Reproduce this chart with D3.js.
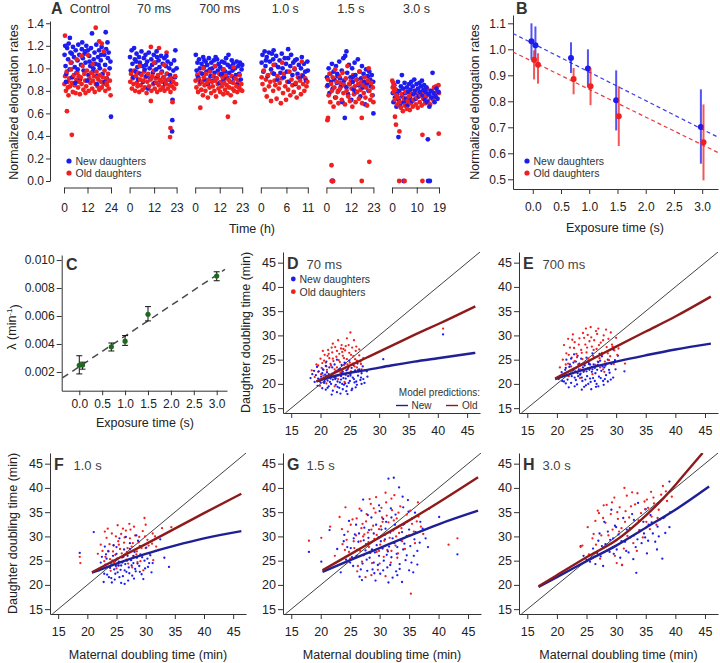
<!DOCTYPE html>
<html><head><meta charset="utf-8">
<script src="https://cdn.jsdelivr.net/npm/d3@7"></script>
<style>body{margin:0;background:#fff}svg{display:block}</style>
</head><body><svg id="c" width="720" height="663"></svg>
<script>
// ---------------- DATA ----------------
// Panel A
const aGroups = ["Control","70 ms","700 ms","1.0 s","1.5 s","3.0 s"];
const aTimeMax = [24,23,23,11,23,19];
const aTimeTicks = [[0,12,24],[0,12,23],[0,12,23],[0,6,11],[0,12,23],[0,10,19]];
const aYTicks = [0,0.2,0.4,0.6,0.8,1.0,1.2,1.4];
const aNewCtrl = [[0.3,1.12],[0.8,1.02],[1.2,0.95],[1.6,1.18],[2.1,1.08],[3.0,1.27],[2.9,0.99],[3.3,1.14],[3.8,1.05],[4.2,0.92],[4.6,1.19],[5.1,1.10],[5.5,1.01],[6.0,1.16],[6.4,0.96],[6.9,1.07],[7.3,1.21],[7.8,1.12],[8.2,0.90],[8.7,1.03],[9.1,1.17],[9.6,1.09],[10.0,0.98],[10.5,1.13],[11.0,1.05],[11.4,1.20],[12.5,0.94],[12.9,1.11],[13.4,1.02],[13.8,1.18],[14.3,1.31],[14.7,0.97],[15.2,1.08],[15.6,1.14],[16.1,1.04],[16.5,1.21],[17.0,0.93],[17.4,1.10],[17.9,1.16],[18.3,1.00],[18.8,1.07],[19.2,1.19],[19.7,0.95],[21.3,1.32],[20.6,1.12],[21.0,1.03],[21.5,1.17],[21.9,0.91],[22.4,1.09],[22.8,1.14],[23.3,1.00],[23.7,1.06],[24.0,0.57],[1.0,0.88],[5.8,0.87],[11.8,0.89],[16.8,0.86],[20.8,0.88],[2.4,1.22],[9.3,1.23],[4.0,1.13],[7.0,0.99],[12.2,1.16],[15.0,1.00],[19.0,1.12],[22.2,1.23],[0.6,1.20],[10.8,1.15],[17.7,1.03],[13.0,1.06]];
const aOldCtrl = [[0.2,0.86],[0.6,0.93],[1.0,0.80],[1.4,0.97],[1.5,0.62],[1.9,0.88],[2.3,0.76],[2.7,0.91],[3.1,0.84],[3.6,0.99],[4.0,0.41],[4.1,0.87],[4.5,0.79],[5.0,0.94],[5.4,0.85],[5.9,0.78],[6.3,0.90],[6.8,0.96],[7.2,0.83],[7.7,0.88],[8.1,0.77],[8.6,0.92],[9.0,0.86],[9.5,1.02],[9.9,0.81],[10.4,0.95],[10.8,0.89],[11.3,0.84],[11.7,0.98],[12.6,0.80],[13.0,0.91],[13.5,0.87],[13.9,0.96],[14.4,0.82],[14.8,0.89],[15.3,0.93],[15.7,0.79],[16.2,1.36],[16.2,0.86],[16.6,0.97],[17.1,0.84],[17.5,0.90],[18.0,1.24],[18.0,0.81],[18.4,0.94],[18.9,0.88],[19.3,1.22],[19.3,0.83],[19.8,0.92],[20.2,0.86],[20.7,0.98],[21.1,0.80],[21.6,0.91],[22.0,0.85],[22.5,0.95],[22.9,0.82],[23.4,0.89],[23.8,0.76],[0.5,1.29],[6.5,1.08],[12.2,1.12],[3.4,1.05],[8.9,1.11],[14.6,1.04],[20.4,1.15],[2.0,0.83],[7.5,0.93],[11.0,0.78],[16.9,0.92],[21.8,0.87]];
const aNew70 = [[0.2,1.10],[0.6,0.98],[1.0,1.16],[1.4,1.04],[1.8,0.92],[2.2,1.18],[2.6,1.08],[3.0,0.97],[3.4,1.13],[3.8,1.01],[4.2,0.90],[4.6,1.10],[5.0,1.05],[5.4,0.95],[5.8,1.15],[6.2,1.02],[6.6,0.88],[7.0,1.09],[7.4,0.99],[7.8,1.12],[8.2,0.93],[8.6,1.06],[9.0,0.82],[9.4,1.14],[9.8,1.00],[10.2,0.91],[10.6,1.08],[11.0,1.03],[11.4,0.96],[11.8,1.12],[12.2,0.87],[12.6,1.05],[13.0,0.99],[13.4,1.10],[13.8,0.93],[14.2,1.07],[14.6,1.01],[15.0,0.89],[15.4,1.11],[15.8,0.97],[16.2,1.04],[16.6,0.92],[17.0,1.09],[17.4,0.86],[17.8,1.02],[18.2,0.95],[18.6,1.06],[19.0,0.90],[19.4,1.00],[19.8,0.94],[20.2,1.04],[20.6,0.88],[20.9,0.54],[20.8,0.44],[21.0,0.72],[21.4,0.98],[21.8,1.07],[22.2,0.92],[22.4,1.16],[23.0,1.00],[3.2,1.06],[8.0,1.03],[13.2,1.15],[18.0,1.11]];
const aOld70 = [[0.3,0.88],[0.7,0.95],[1.1,0.82],[1.5,0.91],[1.9,0.86],[2.3,0.98],[2.7,0.80],[3.1,0.93],[3.5,0.87],[3.9,0.84],[4.3,0.96],[4.7,0.79],[5.1,0.90],[5.5,0.85],[5.9,0.94],[6.3,0.81],[6.7,0.89],[7.1,0.97],[7.5,0.83],[7.9,0.92],[8.3,0.78],[8.7,0.88],[9.1,0.95],[9.5,0.84],[10.4,1.19],[10.4,0.71],[10.3,0.90],[10.7,0.80],[11.1,0.93],[11.5,0.86],[11.9,0.98],[12.3,0.82],[12.7,0.91],[13.1,0.87],[13.5,0.79],[14.4,1.18],[13.9,0.94],[14.3,0.85],[14.7,0.90],[15.1,0.81],[15.5,0.96],[15.9,0.88],[16.3,0.83],[16.7,0.92],[17.1,0.80],[17.5,0.89],[17.9,0.86],[18.3,0.95],[18.7,0.82],[19.1,0.90],[18.1,1.14],[19.6,0.85],[19.8,0.39],[20.0,0.47],[20.0,0.79],[20.4,0.91],[20.8,0.84],[21.0,0.70],[21.4,0.88],[21.8,0.82],[22.3,0.93],[22.8,0.86],[5.0,1.02],[12.0,1.05],[17.0,1.03]];
const aNew700 = [[0.3,1.12],[0.7,0.98],[1.1,1.05],[1.5,0.92],[1.9,1.08],[2.3,1.00],[2.7,0.88],[3.1,1.04],[3.5,0.95],[3.9,1.10],[4.3,1.01],[4.7,0.90],[5.1,1.06],[5.5,0.97],[5.9,1.03],[6.3,0.86],[6.7,1.09],[7.1,0.99],[7.5,0.93],[7.9,1.05],[8.3,1.00],[8.7,0.89],[9.1,1.07],[9.5,0.96],[9.9,1.02],[10.3,0.91],[10.7,1.08],[11.1,0.98],[11.5,1.04],[11.9,0.87],[12.3,1.01],[12.7,0.94],[13.1,1.06],[13.5,0.99],[13.9,0.90],[14.3,1.05],[14.7,0.97],[15.1,1.09],[15.5,0.92],[15.9,1.03],[16.3,1.12],[16.7,0.96],[17.1,1.01],[17.5,0.88],[17.9,1.07],[18.3,0.98],[18.7,1.04],[19.1,0.91],[19.5,1.00],[19.9,0.94],[20.3,1.06],[20.7,0.86],[21.1,1.02],[21.5,0.95],[21.9,1.05],[22.3,0.90],[22.7,0.99],[23.0,1.03],[4.5,1.07],[10.0,1.10],[13.0,0.95],[18.0,1.02]];
const aOld700 = [[0.2,0.89],[0.6,0.83],[1.0,0.94],[1.4,0.79],[1.8,0.90],[2.2,0.86],[2.5,0.65],[2.6,0.96],[3.0,0.81],[3.4,0.88],[3.8,0.76],[4.2,0.92],[4.6,0.85],[5.0,0.80],[5.4,0.95],[5.8,0.87],[6.2,0.74],[6.6,0.90],[7.0,0.83],[7.4,0.97],[7.8,0.78],[8.2,0.88],[8.6,0.84],[9.0,0.93],[9.4,0.80],[9.8,0.89],[10.2,0.75],[10.6,0.91],[11.0,0.86],[11.4,0.82],[11.8,0.95],[12.2,0.79],[12.6,0.88],[13.0,0.84],[13.4,0.92],[13.8,0.77],[14.2,0.87],[14.6,0.81],[15.0,0.94],[15.4,0.85],[15.8,0.78],[16.0,0.57],[16.2,0.90],[16.6,0.83],[17.0,0.88],[17.4,0.76],[17.8,0.93],[18.2,0.82],[18.6,0.87],[19.0,0.80],[19.4,0.70],[19.8,0.91],[20.2,0.84],[20.6,0.79],[21.0,0.89],[21.4,0.83],[21.8,0.94],[22.2,0.81],[22.6,0.86],[23.0,0.80],[4.0,1.00],[9.6,1.02],[14.0,0.99],[18.8,1.01]];
const aNew1s = [[0.2,1.05],[0.4,1.12],[0.6,0.97],[0.9,1.15],[1.1,1.02],[1.4,1.10],[1.6,0.93],[1.9,1.14],[2.1,1.06],[2.4,0.99],[2.6,1.13],[2.9,1.08],[3.1,0.95],[3.4,1.03],[3.6,1.11],[3.9,0.90],[4.1,1.01],[4.4,1.07],[4.6,0.96],[4.9,1.13],[5.1,1.00],[5.4,0.92],[6.4,1.17],[5.9,1.04],[6.1,0.97],[6.4,1.09],[6.6,0.88],[6.9,1.02],[7.1,1.12],[7.4,0.94],[7.6,1.05],[7.9,0.99],[8.1,0.86],[8.4,1.08],[8.6,0.95],[8.9,1.03],[9.1,0.91],[9.4,1.00],[9.6,1.10],[9.9,0.93],[10.1,1.04],[10.4,0.97],[10.6,0.89],[10.9,1.06],[11.0,0.98],[1.2,1.07],[3.0,1.16],[5.6,1.09],[8.0,1.07]];
const aOld1s = [[0.2,0.92],[0.4,0.86],[0.7,0.98],[0.9,0.81],[1.2,0.90],[1.4,0.75],[1.7,0.94],[1.9,0.84],[2.2,0.88],[2.4,0.71],[2.7,0.96],[2.9,0.80],[3.2,0.89],[3.4,0.85],[3.7,0.73],[3.9,0.93],[4.2,0.82],[4.4,0.87],[4.7,0.69],[4.9,0.91],[5.2,0.78],[5.4,0.95],[5.7,0.84],[5.9,0.72],[6.2,0.88],[6.4,0.81],[6.7,0.97],[6.9,0.76],[7.2,0.90],[7.4,0.85],[7.7,0.79],[7.9,1.00],[8.2,0.87],[8.4,0.74],[8.7,0.92],[8.9,0.83],[9.2,0.89],[9.4,0.77],[9.7,0.94],[9.9,0.86],[10.2,0.80],[10.4,0.91],[10.7,0.84],[10.9,0.88],[3.0,1.03],[5.0,1.05],[9.6,1.06]];
const aNew15 = [[0.3,0.92],[0.7,0.85],[1.1,1.00],[1.5,0.78],[1.9,0.95],[2.3,0.88],[2.7,1.04],[3.1,0.82],[3.5,0.97],[3.9,0.90],[4.3,0.74],[4.7,1.02],[5.1,0.87],[5.5,0.93],[5.9,0.80],[6.3,1.06],[6.7,0.91],[7.1,0.84],[7.5,0.98],[7.9,0.70],[8.3,1.09],[8.7,0.89],[9.0,0.56],[9.2,1.11],[9.8,1.15],[9.8,0.83],[10.2,0.96],[10.6,0.77],[11.0,1.03],[11.4,0.86],[11.8,0.92],[12.2,0.72],[12.6,1.00],[13.0,0.88],[13.4,0.81],[13.8,1.05],[14.2,0.94],[14.6,0.79],[15.0,0.90],[15.4,1.08],[15.8,0.85],[16.2,0.97],[16.6,0.75],[17.0,0.91],[17.4,1.02],[17.8,0.83],[18.2,0.95],[18.6,0.88],[19.0,0.68],[19.4,0.99],[19.8,0.86],[20.2,0.93],[20.6,0.80],[21.0,0.97],[21.4,0.90],[21.8,0.84],[22.2,0.94],[22.6,0.76],[23.0,0.60],[22.9,0.88],[2.8,0.0],[3.1,0.0],[5.3,0.95],[12.8,0.92]];
const aOld15 = [[0.3,0.84],[0.5,0.54],[0.7,0.90],[0.8,0.56],[1.1,0.76],[1.5,0.95],[1.9,0.70],[2.3,0.86],[2.5,0.14],[2.7,0.80],[3.1,0.92],[3.5,0.66],[3.9,0.83],[4.3,0.99],[4.7,0.74],[5.1,0.88],[5.5,0.79],[5.9,0.69],[6.3,0.93],[6.7,0.82],[7.1,0.87],[7.5,0.72],[7.9,0.96],[8.3,0.78],[8.7,0.85],[9.1,0.68],[9.5,0.91],[9.9,0.80],[10.3,1.02],[10.7,0.75],[11.1,0.86],[11.5,0.71],[11.9,0.89],[12.3,0.82],[12.7,0.66],[13.1,0.94],[13.5,0.77],[13.9,0.84],[14.3,0.70],[14.7,0.90],[15.1,0.79],[15.5,0.86],[15.9,0.73],[16.3,0.97],[16.7,0.81],[17.1,0.88],[17.3,0.56],[17.3,0.0],[17.5,0.69],[17.9,0.85],[18.3,0.78],[18.7,0.92],[19.1,0.74],[19.5,0.83],[19.9,0.67],[20.3,0.89],[20.7,1.00],[21.0,0.17],[21.1,0.80],[21.5,0.72],[21.9,0.87],[22.3,0.76],[22.7,0.83],[23.0,0.70],[2.6,0.0],[3.3,0.0]];
const aNew3s = [[0.3,0.78],[0.6,0.70],[0.9,0.85],[1.2,0.74],[1.5,0.81],[1.8,0.66],[2.1,0.77],[2.4,0.88],[2.7,0.72],[3.0,0.80],[3.3,0.68],[3.6,0.84],[4.0,0.94],[4.2,0.75],[4.5,0.82],[4.7,0.0],[4.8,0.70],[5.1,0.87],[5.4,0.78],[5.7,0.73],[6.0,0.83],[6.3,0.67],[6.6,0.79],[6.9,0.86],[7.2,0.74],[7.5,0.81],[7.8,0.88],[8.1,0.71],[8.4,0.84],[8.7,0.77],[9.0,0.90],[9.3,0.80],[9.6,0.73],[9.9,0.86],[10.2,0.78],[10.5,0.82],[10.8,0.75],[11.1,0.87],[11.4,0.79],[11.7,0.84],[12.1,0.89],[12.4,0.76],[12.7,0.81],[13.0,0.85],[13.3,0.72],[13.6,0.79],[13.9,0.83],[14.2,0.70],[14.6,0.0],[14.5,0.37],[14.8,0.77],[15.1,0.66],[15.3,0.0],[15.6,0.80],[16.0,0.74],[16.4,0.96],[16.8,0.78],[17.2,0.70],[17.6,0.75],[18.0,0.82],[18.4,0.73],[18.8,0.79],[2.6,0.39]];
const aOld3s = [[0.1,0.89],[0.3,0.83],[0.5,0.87],[0.7,0.79],[0.9,0.85],[1.1,0.72],[1.3,0.81],[1.2,0.57],[1.6,0.50],[1.8,0.76],[2.1,0.68],[2.4,0.74],[2.9,0.0],[3.0,0.44],[3.2,0.70],[3.6,0.65],[4.0,0.77],[4.4,0.62],[4.8,0.73],[5.1,0.0],[5.2,0.67],[5.6,0.79],[6.0,0.64],[6.4,0.71],[6.8,0.75],[7.2,0.63],[7.6,0.69],[8.0,0.77],[8.4,0.66],[8.8,0.72],[9.2,0.80],[9.6,0.68],[10.0,0.74],[10.4,0.65],[10.8,0.78],[11.2,0.70],[11.6,0.76],[12.0,0.67],[12.3,0.0],[12.3,0.41],[12.6,0.73],[13.0,0.79],[13.4,0.69],[13.8,0.75],[14.2,0.82],[14.6,0.71],[15.0,0.77],[15.4,0.68],[15.8,0.74],[16.2,0.80],[16.6,0.72],[17.0,0.83],[17.4,0.76],[17.8,0.84],[18.2,0.79],[18.9,0.42],[18.8,0.85],[19.0,0.78]];
const aNewAll = [aNewCtrl,aNew70,aNew700,aNew1s,aNew15,aNew3s];
const aOldAll = [aOldCtrl,aOld70,aOld700,aOld1s,aOld15,aOld3s];

// Panel B
const bExposure = [0, 0.07, 0.7, 1.0, 1.5, 3.0];
const bNewMean = [1.031, 1.016, 0.967, 0.926, 0.804, 0.701];
const bNewLo   = [0.960, 0.950, 0.909, 0.853, 0.688, 0.560];
const bNewHi   = [1.100, 1.088, 1.027, 1.000, 0.919, 0.846];
const bOldMean = [0.960, 0.941, 0.886, 0.858, 0.743, 0.643];
const bOldLo   = [0.884, 0.868, 0.827, 0.785, 0.628, 0.496];
const bOldHi   = [0.996, 0.985, 0.928, 0.928, 0.858, 0.788];
const bNewFit = [[-0.35,1.061],[3.28,0.662]];
const bOldFit = [[-0.35,0.990],[3.28,0.603]];
const bXTicks = [0,0.5,1.0,1.5,2.0,2.5,3.0];
const bYTicks = [0.5,0.6,0.7,0.8,0.9,1.0,1.1];

// Panel C
const cExposure = [0, 0.07, 0.7, 1.0, 1.5, 3.0];
const cLambda = [0.00248, 0.00250, 0.00380, 0.00420, 0.00612, 0.00886];
const cLo = [0.00186, 0.00220, 0.00350, 0.00390, 0.00565, 0.00852];
const cHi = [0.00316, 0.00270, 0.00407, 0.00460, 0.00667, 0.00916];
const cFit = [[-0.37,0.00157],[3.18,0.00933]];
const cXTicks = [0,0.5,1.0,1.5,2.0,2.5,3.0];
const cYTicks = [0.002,0.004,0.006,0.008,0.010];

// Panels D-H
const sTicks = [15,20,25,30,35,40,45];
const dNew = [[18.3,21.2],[18.6,22.0],[19.0,20.4],[19.2,21.8],[19.5,19.6],[19.7,22.6],[19.9,20.9],[20.1,21.5],[20.3,19.1],[20.4,23.0],[20.6,20.2],[20.8,21.9],[20.9,18.8],[21.1,22.4],[21.2,20.7],[21.4,19.5],[21.5,23.4],[21.7,21.1],[21.8,20.0],[22.0,22.1],[22.1,18.6],[22.3,21.4],[22.4,24.0],[22.6,19.8],[22.7,22.7],[22.9,20.5],[23.0,21.8],[23.2,19.2],[23.3,23.1],[23.5,20.9],[23.6,22.3],[23.8,18.9],[23.9,21.2],[24.1,24.4],[24.2,20.1],[24.4,22.8],[24.5,19.5],[24.7,21.6],[24.8,23.5],[25.0,20.6],[25.1,22.0],[25.3,18.7],[25.5,21.3],[25.6,23.9],[25.8,20.3],[26.0,22.5],[26.2,19.8],[26.4,21.7],[26.6,23.0],[26.8,20.8],[27.0,22.2],[27.3,21.0],[27.6,22.8],[28.0,21.5],[30.7,25.1],[40.9,30.2],[21.0,24.6],[22.8,25.0],[19.4,23.5],[24.6,17.9],[21.9,17.8],[23.4,18.0],[20.5,22.9],[22.5,21.0],[23.7,20.0],[21.3,21.3],[24.9,24.8],[26.3,24.2],[25.4,19.0],[20.0,20.3],
 [20.2,21.0],[20.7,20.5],[21.0,21.6],[21.4,22.0],[21.6,20.4],[21.9,21.7],[22.1,20.9],[22.4,22.4],[22.6,21.2],[22.9,19.4],[23.1,22.9],[23.3,20.3],[23.5,21.6],[23.8,22.5],[24.0,19.8],[24.3,21.1],[24.6,23.0],[24.8,20.2],[25.1,21.7],[25.3,23.3],[25.7,21.0],[25.9,22.8],[26.1,20.5],[26.5,22.6],[26.9,21.3],[27.2,23.6],[27.5,20.2],[27.9,22.6],[20.3,22.2],[21.2,19.2],[22.0,23.4],[22.8,18.3],[23.6,23.9],[24.4,18.5],[19.6,21.1],[18.9,22.7],[20.9,23.7],[26.0,19.3],[27.0,20.0],[24.2,24.2]];
const dOld = [[18.5,22.8],[19.0,21.4],[19.3,24.0],[19.6,22.5],[19.8,20.6],[20.0,25.2],[20.2,23.3],[20.5,21.7],[20.7,26.0],[20.9,24.4],[21.1,22.9],[21.3,27.0],[21.5,25.3],[21.6,21.4],[21.8,23.8],[22.0,26.5],[22.2,24.7],[22.3,22.2],[22.5,27.6],[22.7,25.6],[22.8,23.4],[23.0,21.0],[23.2,26.2],[23.3,24.5],[23.5,27.3],[23.7,22.7],[23.8,25.8],[24.0,23.9],[24.2,26.9],[24.3,21.8],[24.5,25.1],[24.7,23.2],[24.9,26.4],[25.0,24.4],[25.1,30.6],[25.2,22.6],[25.4,27.5],[25.6,25.7],[25.8,23.6],[26.0,26.8],[26.2,24.8],[26.4,22.9],[26.6,25.9],[26.9,24.1],[27.3,25.3],[30.7,23.5],[40.9,31.4],[21.0,20.1],[22.4,19.5],[24.1,20.4],[19.9,19.6],[23.6,28.0],[22.1,28.3],[24.8,28.0],[20.4,26.8],[26.1,27.7],[27.0,23.0],
 [19.6,23.8],[20.1,22.0],[20.6,24.8],[21.0,23.6],[21.4,26.2],[21.7,24.1],[22.1,25.2],[22.4,23.0],[22.8,26.8],[23.1,24.9],[23.4,22.3],[23.7,26.6],[24.0,25.3],[24.3,27.8],[24.6,24.0],[24.9,22.2],[25.2,26.0],[25.5,24.2],[25.9,25.1],[26.2,23.4],[26.6,27.1],[23.9,27.2],[22.6,22.6],[21.2,25.8],[20.3,24.3],[25.7,29.0],[24.5,29.4],[23.0,29.0],[26.8,24.6],[21.9,27.5]];
const eNew = [[20.3,21.0],[20.8,22.4],[21.2,20.5],[21.5,23.3],[21.9,21.7],[22.2,24.0],[22.4,20.2],[22.7,22.8],[23.0,21.3],[23.2,24.6],[23.4,19.9],[23.7,23.0],[23.9,21.9],[24.1,25.2],[24.3,20.6],[24.5,22.5],[24.7,23.8],[24.9,19.7],[25.1,21.6],[25.3,24.5],[25.5,22.9],[25.7,20.4],[25.9,23.5],[26.1,21.2],[26.3,25.4],[26.5,22.2],[26.7,20.0],[26.9,23.9],[27.1,21.5],[27.3,24.8],[27.5,22.7],[27.8,20.6],[28.0,23.4],[28.3,21.8],[28.6,25.0],[28.9,22.3],[29.2,24.1],[29.5,21.3],[29.9,23.0],[30.3,25.8],[31.4,22.6],[22.0,19.3],[24.6,19.4],[25.8,18.9],[23.5,25.8],[26.0,26.3],[21.6,25.0],[27.6,25.7],[24.0,22.1],[25.2,23.2],[26.4,23.3],[23.1,22.6],[27.9,19.8],[22.9,26.1],[25.6,24.0],[28.6,20.5],[29.5,27.1],[20.9,20.6],
 [21.0,21.8],[21.4,22.9],[21.8,20.9],[22.1,23.5],[22.5,21.6],[22.8,24.4],[23.2,20.8],[23.5,22.2],[23.8,24.2],[24.2,21.3],[24.4,23.4],[24.8,20.9],[25.0,22.6],[25.4,24.1],[25.6,21.1],[25.9,22.5],[26.2,24.0],[26.4,20.6],[26.8,22.9],[27.0,24.5],[27.4,21.2],[27.7,23.6],[28.1,21.0],[28.4,24.2],[28.8,22.9],[29.1,20.9],[23.0,19.5],[24.2,18.8],[26.6,19.4],[25.0,25.4],[22.4,25.2],[27.2,26.2],[23.6,21.6],[24.6,24.0],[26.0,23.0],[28.2,23.8],[21.5,20.1],[29.8,24.9],[25.3,20.0],[27.0,19.5]];
const eOld = [[20.5,23.4],[21.0,25.0],[21.3,22.1],[21.6,26.3],[21.9,24.2],[22.2,27.5],[22.5,25.4],[22.8,23.1],[23.0,28.6],[23.3,26.2],[23.6,24.0],[23.8,29.4],[24.1,27.0],[24.3,25.1],[24.6,22.7],[24.8,28.1],[25.0,26.5],[25.2,30.1],[25.4,24.6],[25.7,31.7],[25.9,27.7],[26.1,25.8],[26.3,29.0],[26.5,23.9],[26.7,27.2],[27.0,31.4],[27.2,25.3],[27.4,28.5],[27.6,26.4],[27.9,30.0],[28.1,24.6],[28.4,27.6],[28.7,29.3],[29.0,25.7],[29.3,28.1],[29.7,26.9],[30.0,29.5],[30.4,27.3],[31.5,24.2],[22.0,21.6],[23.9,21.2],[26.0,22.0],[28.0,22.5],[24.4,30.5],[26.8,30.3],[22.6,29.1],[25.5,28.8],[27.8,23.0],[29.6,24.1],[21.2,28.0],
 [21.5,24.0],[22.0,26.0],[22.4,23.6],[22.9,27.4],[23.4,25.5],[23.7,28.1],[24.2,26.4],[24.6,29.5],[25.1,27.5],[25.3,25.2],[25.8,29.6],[26.2,27.0],[26.6,30.9],[27.1,28.0],[27.5,26.0],[27.8,29.0],[28.3,31.2],[28.6,26.3],[29.1,30.6],[29.4,27.7],[24.0,23.0],[25.6,23.3],[23.0,24.7],[26.9,24.6],[28.8,24.9],[22.7,30.2],[24.9,31.4],[30.2,26.0],[21.9,29.3],[27.3,23.4]];
const fNew = [[18.7,26.6],[21.1,30.9],[22.0,23.0],[22.5,25.8],[22.8,20.6],[23.1,24.2],[23.4,22.1],[23.6,26.9],[23.9,23.5],[24.1,21.4],[24.3,25.0],[24.5,28.2],[24.7,21.1],[24.9,23.9],[25.0,26.4],[25.2,22.6],[25.4,24.8],[25.5,29.6],[25.7,23.1],[25.9,25.7],[26.1,21.8],[26.3,27.3],[26.5,24.3],[26.7,22.7],[26.9,26.0],[27.1,23.6],[27.3,28.6],[27.5,25.1],[27.7,21.9],[27.9,24.5],[28.1,26.8],[28.3,22.8],[28.5,25.6],[28.7,29.1],[28.9,23.9],[29.1,26.3],[29.3,22.2],[29.6,21.2],[29.8,25.0],[30.1,27.7],[30.4,23.7],[30.8,26.1],[31.2,24.5],[31.7,27.0],[32.5,29.4],[33.2,25.6],[34.0,23.7],[25.3,24.0],[26.0,24.6],[24.6,23.2],[27.0,20.9],[23.0,27.9],[28.4,30.2],[25.8,20.4],[26.6,29.9],[29.0,28.0],
 [22.3,24.6],[22.9,22.3],[23.3,25.4],[23.7,21.6],[24.0,24.4],[24.4,26.0],[24.8,22.3],[25.1,25.4],[25.5,21.6],[25.8,24.0],[26.2,25.8],[26.4,23.0],[26.8,25.0],[27.2,22.4],[27.6,24.0],[27.9,26.0],[28.2,23.3],[28.6,24.4],[29.0,22.7],[29.4,25.7],[29.9,23.4],[30.3,25.4],[31.0,22.6],[24.2,20.5],[26.4,20.2],[28.0,21.3],[23.2,26.3],[25.0,27.8],[27.3,27.4],[30.6,24.5]];
const fOld = [[18.7,25.8],[18.8,24.5],[21.8,26.4],[22.3,28.3],[22.9,24.9],[23.3,29.7],[23.6,27.0],[23.9,25.3],[24.2,30.6],[24.5,28.1],[24.8,26.2],[25.0,23.4],[25.3,29.0],[25.6,27.4],[25.8,30.5],[26.0,25.7],[26.3,28.7],[26.6,31.2],[26.8,26.8],[27.0,24.4],[27.3,29.6],[27.6,27.9],[27.9,25.9],[28.2,30.2],[28.5,26.9],[28.8,28.8],[29.1,24.9],[29.5,31.1],[29.8,33.8],[30.0,27.6],[30.3,29.3],[30.7,26.4],[31.1,28.5],[31.6,30.0],[32.2,27.2],[32.8,31.7],[34.4,31.9],[25.4,24.0],[24.0,22.9],[27.7,23.6],[26.1,31.6],[28.0,32.0],[23.0,31.0],[29.6,23.0],[31.3,25.1],
 [22.6,27.0],[23.1,25.8],[23.8,28.4],[24.4,26.9],[24.9,30.0],[25.4,28.3],[25.9,26.5],[26.4,29.8],[26.9,27.6],[27.4,31.4],[27.8,28.6],[28.4,26.3],[28.9,29.9],[29.3,27.6],[29.9,30.0],[30.5,28.1],[31.2,30.6],[31.8,27.9],[24.6,24.6],[26.7,25.2],[28.6,24.7],[23.5,31.6],[25.2,32.3],[27.2,32.6],[30.0,32.4]];
const gNew = [[18.0,26.8],[20.1,24.8],[21.5,31.3],[22.8,27.4],[23.4,22.6],[23.9,29.0],[24.3,25.2],[24.8,33.2],[25.1,27.6],[25.5,23.9],[25.8,30.4],[26.1,26.0],[26.4,28.9],[26.6,21.7],[26.9,35.3],[27.1,24.4],[27.4,31.8],[27.6,27.1],[27.9,22.9],[28.1,29.7],[28.3,25.6],[28.6,33.9],[28.8,23.2],[29.0,30.6],[29.2,26.7],[29.5,28.2],[29.7,24.1],[29.9,36.4],[30.1,22.3],[30.3,31.4],[30.5,27.5],[30.7,25.0],[30.9,29.4],[31.1,33.0],[31.3,23.6],[31.5,41.9],[31.6,27.9],[31.8,30.8],[32.0,25.7],[32.2,21.5],[32.4,42.1],[32.5,28.6],[32.7,34.5],[32.9,26.4],[33.1,31.9],[33.3,40.1],[33.4,24.3],[33.6,29.2],[33.8,20.6],[34.0,27.3],[34.2,32.6],[34.4,25.1],[34.6,30.1],[34.8,37.5],[35.0,23.0],[35.2,28.0],[35.5,33.7],[35.8,26.0],[36.1,30.9],[36.4,24.2],[36.8,28.7],[37.3,31.6],[38.2,27.8],[40.1,34.0],[43.2,26.3],[27.2,37.6],[29.3,20.9],[31.9,35.8],[26.0,32.4],[24.0,30.3],[30.6,33.6],[28.4,26.6],[32.8,22.8],[34.9,35.1],[27.7,28.4],[29.8,29.8],[31.2,26.2],[25.3,25.7],[33.9,38.2],[36.0,34.9],
 [24.5,27.8],[25.0,24.6],[25.6,29.6],[26.2,27.2],[26.8,23.2],[27.3,29.2],[27.8,25.2],[28.2,31.3],[28.7,27.3],[29.1,22.4],[29.4,32.4],[29.9,26.0],[30.2,29.0],[30.6,23.0],[31.0,31.6],[31.4,26.9],[31.8,24.1],[32.2,29.6],[32.6,32.4],[33.0,27.8],[33.4,23.3],[33.8,30.9],[34.2,28.5],[34.6,26.1],[35.0,31.4],[35.4,24.6],[35.9,29.4],[36.4,27.0],[36.9,33.0],[26.5,30.6],[28.0,34.4],[30.0,35.2],[32.0,33.9],[34.0,36.0],[27.0,21.0],[31.5,20.5],[33.0,22.0],[29.0,24.6],[35.7,22.6],[37.8,29.6]];
const gOld = [[18.0,29.1],[20.1,29.7],[21.6,32.0],[22.4,26.0],[23.2,34.0],[23.7,28.4],[24.2,36.0],[24.6,31.0],[25.0,25.4],[25.4,33.5],[25.7,27.6],[26.0,30.2],[26.3,23.9],[26.6,35.7],[26.8,29.0],[27.1,32.6],[27.3,26.1],[27.6,21.6],[27.8,34.6],[28.0,30.8],[28.2,27.8],[28.5,36.7],[28.7,24.5],[28.9,32.2],[29.1,29.5],[29.3,34.9],[29.5,26.8],[29.7,23.1],[29.9,31.5],[30.1,28.3],[30.3,35.9],[30.5,33.0],[30.7,25.8],[30.9,30.3],[31.1,37.0],[31.3,27.2],[31.5,32.9],[31.7,29.7],[31.9,24.6],[32.1,35.4],[32.3,31.2],[32.5,38.5],[32.7,28.1],[32.9,33.7],[33.1,26.5],[33.3,30.7],[33.5,36.2],[33.8,29.0],[34.0,32.4],[34.3,27.4],[34.6,34.5],[35.0,30.2],[35.3,18.2],[35.5,32.6],[36.0,28.6],[36.6,34.1],[37.4,30.5],[38.4,35.7],[41.7,28.3],[43.2,29.6],[26.2,22.8],[28.6,22.0],[31.0,21.8],[24.1,27.2],[29.4,38.1],[27.4,30.4],[30.2,32.1],[32.0,37.8],[26.9,31.7],
 [23.6,31.5],[24.4,29.3],[25.1,32.4],[25.6,29.0],[26.1,33.7],[26.7,27.0],[27.2,30.0],[27.7,33.1],[28.1,28.8],[28.6,31.4],[29.0,35.8],[29.5,30.3],[29.9,27.0],[30.4,33.9],[30.8,29.1],[31.2,34.3],[31.6,30.9],[32.0,27.0],[32.4,33.3],[32.8,30.0],[33.2,34.9],[33.7,31.7],[34.1,29.6],[34.6,33.0],[35.2,35.3],[35.8,31.0],[36.3,33.1],[24.8,26.8],[27.0,24.8],[30.0,24.4],[33.0,25.6],[28.3,37.7],[31.0,39.0],[36.5,37.0],[37.0,32.0]];
const hNew = [[24.0,28.0],[24.5,26.0],[25.0,25.2],[25.6,24.8],[26.1,27.5],[26.5,24.3],[27.0,29.1],[27.4,25.9],[27.8,23.9],[28.2,28.4],[28.6,31.0],[28.9,26.8],[29.2,35.5],[29.5,29.6],[29.8,32.2],[30.1,27.3],[30.4,30.4],[30.7,25.6],[31.0,24.1],[31.2,33.8],[31.5,28.9],[31.8,31.4],[32.1,26.7],[32.4,29.8],[32.7,34.6],[33.0,30.2],[33.3,27.8],[33.4,22.5],[33.7,36.9],[34.0,31.2],[34.3,28.6],[34.6,33.0],[34.9,29.8],[35.2,26.5],[35.5,32.4],[35.8,34.4],[36.2,30.6],[36.6,28.9],[37.0,32.0],[37.4,33.5],[37.8,25.4],[38.3,30.7],[39.0,31.9],[39.0,41.3],[30.0,31.9],[27.2,30.6],[32.9,25.3],[35.0,35.6],[36.9,27.3],[28.0,33.0],
 [26.8,26.6],[28.4,27.0],[29.6,26.4],[30.9,29.0],[32.3,31.7],[33.6,29.4],[34.7,30.6],[36.0,32.9],[37.2,30.0],[31.7,27.0],[29.0,29.3],[33.0,33.4],[35.4,29.1],[38.0,33.8],[27.6,28.0]];
const hOld = [[24.0,27.8],[24.3,28.1],[25.4,26.3],[26.0,29.6],[26.6,28.3],[26.9,35.3],[27.1,34.8],[27.5,30.2],[27.9,36.4],[28.2,32.8],[28.4,36.5],[28.8,27.1],[29.1,34.6],[29.4,31.4],[29.7,38.0],[30.0,29.2],[30.3,33.6],[30.6,36.0],[30.9,31.7],[31.0,24.1],[31.3,27.5],[31.6,35.2],[31.9,30.1],[32.2,33.9],[32.7,39.1],[32.9,28.6],[33.2,36.6],[33.6,38.9],[33.9,31.3],[34.2,34.8],[34.5,29.8],[34.8,37.2],[35.1,33.0],[35.4,35.9],[35.7,31.5],[36.0,34.1],[36.4,36.8],[36.8,32.4],[37.2,35.5],[37.6,38.6],[37.9,40.4],[38.2,34.0],[38.6,37.3],[39.1,35.0],[39.4,38.2],[25.2,31.9],[27.3,25.4],[29.8,26.0],[31.4,40.0],[33.5,27.0],[30.1,24.5],[35.9,39.2],[26.5,33.2],
 [26.2,30.5],[27.8,33.8],[28.7,30.2],[30.2,35.0],[31.5,33.0],[32.5,36.2],[33.8,33.3],[34.9,35.6],[36.3,38.0],[37.0,33.8],[38.4,39.3],[29.3,37.0],[31.8,38.4],[35.2,37.6],[30.5,31.0]];
const dModelNew = [[19.3,20.5],[22,21.5],[25,22.3],[28,22.9],[32,23.8],[36,24.6],[40,25.3],[46.4,26.4]];
const dModelOld = [[19.3,20.5],[24,23.2],[28,25.5],[32,27.8],[36,30.1],[40,32.3],[46.4,36.0]];
const eModelNew = [[19.7,21.0],[25,23.1],[30,24.6],[35,25.9],[40,27.1],[46,28.3]];
const eModelOld = [[19.7,21.1],[25,24.5],[30,27.7],[35,30.8],[40,33.9],[46,38.0]];
const fModelNew = [[20.8,22.5],[25,24.4],[30,26.4],[35,28.1],[40,29.6],[46.4,31.1]];
const fModelOld = [[20.8,22.6],[25,25.3],[30,28.4],[35,31.6],[40,34.8],[46.4,38.8]];
const gModelNew = [[20.3,22.7],[25,25.1],[30,27.6],[35,30.1],[40,32.5],[46.7,35.3]];
const gModelOld = [[20.3,23.0],[25,26.3],[30,29.8],[35,33.3],[40,37.0],[46.7,42.2]];
const hModelNew = [[16.9,19.6],[20,21.6],[25,24.9],[30,28.1],[35,31.8],[40,35.5],[45.7,40.3]];
const hModelOld = [[16.9,19.7],[20,22.0],[25,25.7],[30,29.2],[35,34.3],[38,37.9],[40,40.6],[42,43.5],[44.6,47.2]];

// ---------------- DRAWING ----------------
const FONT = "'Liberation Sans', Arial, Helvetica, sans-serif";
const BLUE = "#1c1cf0", RED = "#f02020";
const NAVY = "#1f1f96", MAROON = "#8e1b1b";
const svg = d3.select("#c").style("font-family", FONT);

function styleAxis(g, fs) {
  g.attr("font-family", FONT).attr("font-size", fs);
  g.selectAll("path,line").attr("stroke", "#333").attr("stroke-width", 1);
  g.selectAll("text").attr("fill", "#222");
}
function interleave(a, b) {
  const out = [];
  for (let i = 0; i < Math.max(a.length, b.length); i++) {
    if (i < a.length) out.push({ p: a[i], c: 0 });
    if (i < b.length) out.push({ p: b[i], c: 1 });
  }
  return out;
}
function label(x, y, txt, opt = {}) {
  return svg.append("text").attr("x", x).attr("y", y).text(txt)
    .attr("font-size", opt.size || 12).attr("fill", opt.fill || "#222")
    .attr("font-weight", opt.bold ? "bold" : null)
    .attr("text-anchor", opt.anchor || "start");
}
function vlabel(cx, cy, txt, size) {
  return svg.append("text").attr("transform", `translate(${cx},${cy}) rotate(-90)`)
    .attr("text-anchor", "middle").attr("dy", "0.35em").attr("font-size", size || 12.5)
    .attr("fill", "#222").text(txt);
}

// ===== Panel A =====
const yA = d3.scaleLinear().domain([0, 1.42]).range([181, 21]);
svg.append("g").attr("transform", "translate(50,0)")
  .call(d3.axisLeft(yA).tickValues(aYTicks).tickFormat(d3.format(".1f")).tickSize(4).tickSizeOuter(0).tickPadding(2))
  .call(styleAxis, 12);
aGroups.forEach((name, i) => {
  const x0 = 64 + i * 65.6;
  const x = d3.scaleLinear().domain([0, aTimeMax[i]]).range([x0, x0 + 47]);
  svg.append("g").selectAll("circle").data(interleave(aNewAll[i], aOldAll[i])).join("circle")
    .attr("cx", d => x(d.p[0])).attr("cy", d => yA(d.p[1])).attr("r", 2.4)
    .attr("fill", d => d.c ? RED : BLUE);
  svg.append("g").attr("transform", "translate(0,187.5)")
    .call(d3.axisBottom(x).tickValues(aTimeTicks[i]).tickSize(6).tickSizeOuter(0).tickPadding(10))
    .call(styleAxis, 12);
  const cx = i === 0 ? x(aTimeMax[i] / 2) + 2.5 : x(aTimeMax[i] / 2) + 1;
  label(cx, 12.5, name, { anchor: "middle", size: 12.5, fill: "#333" });
});
label(51, 14, "A", { bold: true, size: 16, fill: "#333" });
vlabel(14, 102, "Normalized elongation rates");
label(252, 233, "Time (h)", { anchor: "middle", size: 12.5 });
[[BLUE, "New daughters", 161], [RED, "Old daughters", 173]].forEach(([c, t, y]) => {
  svg.append("circle").attr("cx", 69).attr("cy", y).attr("r", 2.6).attr("fill", c);
  label(75.5, y + 3.8, t, { size: 10.5, fill: "#333" });
});

// ===== Panel B =====
const xB = d3.scaleLinear().domain([-0.35, 3.28]).range([513, 718]);
const yB = d3.scaleLinear().domain([0.4627, 1.132]).range([189, 15]);
svg.append("g").attr("transform", "translate(513,0)")
  .call(d3.axisLeft(yB).tickValues(bYTicks).tickFormat(d3.format(".1f")).tickSize(5).tickSizeOuter(0).tickPadding(2))
  .call(styleAxis, 12);
svg.append("g").attr("transform", "translate(0,189)")
  .call(d3.axisBottom(xB).tickValues(bXTicks).tickFormat(d3.format(".1f")).tickSize(5).tickSizeOuter(0).tickPadding(8))
  .call(styleAxis, 12);
const fitLine = (xs, ys) => d3.line().x(d => xs(d[0])).y(d => ys(d[1]));
svg.append("path").attr("d", fitLine(xB, yB)(bNewFit)).attr("stroke", "#3b3be8").attr("stroke-width", 1.2).attr("stroke-dasharray", "4,3").attr("fill", "none");
svg.append("path").attr("d", fitLine(xB, yB)(bOldFit)).attr("stroke", "#e83b3b").attr("stroke-width", 1.2).attr("stroke-dasharray", "4,3").attr("fill", "none");
const bSeries = [
  { mean: bNewMean, lo: bNewLo, hi: bNewHi, col: BLUE, dx: -1.3 },
  { mean: bOldMean, lo: bOldLo, hi: bOldHi, col: RED, dx: 1.3 }
];
bSeries.forEach(s => {
  const g = svg.append("g");
  g.selectAll("line").data(bExposure).join("line")
    .attr("x1", d => xB(d) + s.dx).attr("x2", d => xB(d) + s.dx)
    .attr("y1", (d, i) => yB(s.lo[i])).attr("y2", (d, i) => yB(s.hi[i]))
    .attr("stroke", s.col).attr("stroke-width", 2).attr("opacity", 0.75);
  g.selectAll("circle").data(bExposure).join("circle")
    .attr("cx", d => xB(d) + s.dx).attr("cy", (d, i) => yB(s.mean[i])).attr("r", 3).attr("fill", s.col);
});
label(516, 13.5, "B", { bold: true, size: 16, fill: "#333" });
vlabel(475, 102, "Normalized elongation rates");
label(615, 232, "Exposure time (s)", { anchor: "middle", size: 12.5 });
[[BLUE, "New daughters", 161], [RED, "Old daughters", 173]].forEach(([c, t, y]) => {
  svg.append("circle").attr("cx", 527).attr("cy", y).attr("r", 2.6).attr("fill", c);
  label(533.5, y + 3.8, t, { size: 10.5, fill: "#333" });
});

// ===== Panel C =====
const xC = d3.scaleLinear().domain([-0.384, 3.225]).range([61.7, 227]);
const yC = d3.scaleLinear().domain([0.00066, 0.01036]).range([390.7, 255]);
svg.append("g").attr("transform", "translate(61.7,0)")
  .call(d3.axisLeft(yC).tickValues(cYTicks).tickFormat(d3.format(".3f")).tickSize(5).tickSizeOuter(0).tickPadding(2))
  .call(styleAxis, 12);
svg.append("g").attr("transform", "translate(0,390.7)")
  .call(d3.axisBottom(xC).tickValues(cXTicks).tickFormat(d3.format(".1f")).tickSize(4.5).tickSizeOuter(0).tickPadding(4))
  .call(styleAxis, 12);
svg.append("path").attr("d", fitLine(xC, yC)(cFit)).attr("stroke", "#4a4a4a").attr("stroke-width", 1.5).attr("stroke-dasharray", "7,5").attr("fill", "none");
const gC = svg.append("g");
cExposure.forEach((e, i) => {
  const cx = xC(e);
  gC.append("line").attr("x1", cx).attr("x2", cx).attr("y1", yC(cLo[i])).attr("y2", yC(cHi[i])).attr("stroke", "#111").attr("stroke-width", 1);
  [cLo[i], cHi[i]].forEach(v => gC.append("line").attr("x1", cx - 3).attr("x2", cx + 3).attr("y1", yC(v)).attr("y2", yC(v)).attr("stroke", "#111").attr("stroke-width", 1));
});
gC.selectAll("circle").data(cExposure).join("circle")
  .attr("cx", d => xC(d)).attr("cy", (d, i) => yC(cLambda[i])).attr("r", 2.6).attr("fill", "#1d6a1d");
label(66, 270, "C", { bold: true, size: 16, fill: "#333" });
label(145, 427, "Exposure time (s)", { anchor: "middle", size: 12.5 });
{
  const t = svg.append("text").attr("transform", "translate(12,327) rotate(-90)")
    .attr("text-anchor", "middle").attr("dy", "0.35em").attr("font-size", 12.5).attr("fill", "#222");
  t.append("tspan").text("λ (min");
  t.append("tspan").text("-1").attr("font-size", 8).attr("dy", "-0.6em");
  t.append("tspan").text(")").attr("dy", "0.6em");
}

// ===== Panels D-H =====
const sDomX = [13.6, 47.2], sDomY = [14.0, 47.2];
let clipId = 0;
function scatterPanel(o) {
  const x = d3.scaleLinear().domain(sDomX).range([o.left, o.left + o.w]);
  const y = d3.scaleLinear().domain(sDomY).range([o.top + o.h, o.top]);
  const id = "clip" + (clipId++);
  svg.append("clipPath").attr("id", id).append("rect")
    .attr("x", o.left).attr("y", o.top).attr("width", o.w).attr("height", o.h);
  const g = svg.append("g").attr("clip-path", `url(#${id})`);
  const lo = Math.max(sDomX[0], sDomY[0]), hi = Math.min(sDomX[1], sDomY[1]);
  g.append("line").attr("x1", x(lo)).attr("y1", y(lo)).attr("x2", x(hi)).attr("y2", y(hi))
    .attr("stroke", "#111").attr("stroke-width", 0.8);
  g.append("g").selectAll("circle").data(interleave(o.nw, o.old)).join("circle")
    .attr("cx", d => x(d.p[0])).attr("cy", d => y(d.p[1])).attr("r", 1.15)
    .attr("fill", d => d.c ? RED : BLUE);
  const ln = d3.line().x(d => x(d[0])).y(d => y(d[1])).curve(d3.curveMonotoneX);
  g.append("path").attr("d", ln(o.mNew)).attr("stroke", NAVY).attr("stroke-width", 2.4).attr("fill", "none");
  g.append("path").attr("d", ln(o.mOld)).attr("stroke", MAROON).attr("stroke-width", 2.4).attr("fill", "none");
  svg.append("g").attr("transform", `translate(${o.left},0)`)
    .call(d3.axisLeft(y).tickValues(sTicks).tickSize(5).tickSizeOuter(0).tickPadding(2))
    .call(styleAxis, 12.5);
  svg.append("g").attr("transform", `translate(0,${o.top + o.h})`)
    .call(d3.axisBottom(x).tickValues(sTicks).tickSize(5).tickSizeOuter(0).tickPadding(8.5))
    .call(styleAxis, 12.5);
  label(o.left + 4, o.top + 16.5, o.letter, { bold: true, size: 16, fill: "#333" });
  label(o.left + 23.5, o.top + 16.5, o.title, { size: 13, fill: "#444" });
  if (o.ylab) vlabel(o.left - 37, o.top + o.h / 2, "Daughter doubling time (min)");
  if (o.xlab) label(o.left + o.w / 2, 659, "Maternal doubling time (min)", { anchor: "middle", size: 12.5 });
  return { x, y };
}
scatterPanel({ left: 283, top: 252, w: 197, h: 161, nw: dNew, old: dOld, mNew: dModelNew, mOld: dModelOld, letter: "D", title: "70 ms", ylab: true });
scatterPanel({ left: 519, top: 252, w: 199, h: 161, nw: eNew, old: eOld, mNew: eModelNew, mOld: eModelOld, letter: "E", title: "700 ms" });
scatterPanel({ left: 50, top: 453, w: 196, h: 161, nw: fNew, old: fOld, mNew: fModelNew, mOld: fModelOld, letter: "F", title: "1.0 s", ylab: true, xlab: true });
scatterPanel({ left: 283, top: 453, w: 198, h: 161, nw: gNew, old: gOld, mNew: gModelNew, mOld: gModelOld, letter: "G", title: "1.5 s", xlab: true });
scatterPanel({ left: 519, top: 453, w: 199, h: 161, nw: hNew, old: hOld, mNew: hModelNew, mOld: hModelOld, letter: "H", title: "3.0 s", xlab: true });

// D legends
[[BLUE, "New daughters", 279], [RED, "Old daughters", 291.7]].forEach(([c, t, y]) => {
  svg.append("circle").attr("cx", 293.3).attr("cy", y).attr("r", 2.4).attr("fill", c);
  label(299.5, y + 3.8, t, { size: 10.5, fill: "#333" });
});
label(480, 395.5, "Model predictions:", { anchor: "end", size: 10, fill: "#333" });
svg.append("line").attr("x1", 396).attr("x2", 408).attr("y1", 405.5).attr("y2", 405.5).attr("stroke", NAVY).attr("stroke-width", 1.4);
label(411.5, 409, "New", { size: 10, fill: "#333" });
svg.append("line").attr("x1", 446).attr("x2", 458).attr("y1", 405.5).attr("y2", 405.5).attr("stroke", MAROON).attr("stroke-width", 1.4);
label(462, 409, "Old", { size: 10, fill: "#333" });
</script></body></html>
